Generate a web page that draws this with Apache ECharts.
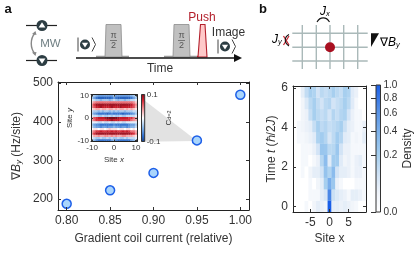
<!DOCTYPE html>
<html><head><meta charset="utf-8">
<style>html,body{margin:0;padding:0;background:#fff}#c{width:415px;height:259px}</style>
<script src="https://cdn.jsdelivr.net/npm/echarts@6/dist/echarts.min.js"></script>
</head><body><div id="c"></div>
<script>
const coilCurrent = [0.80, 0.85, 0.90, 0.95, 1.00];
const gradient = [188, 223, 268, 352, 470];
const currentTicks = [0.80, 0.85, 0.90, 0.95, 1.00];
const gradientTicks = [200, 300, 400, 500];

const siteX = [-9,-8,-7,-6,-5,-4,-3,-2,-1,0,1,2,3,4,5,6,7,8,9];
const timeT = [0,0.58,1.16,1.74,2.32,2.9,3.48,4.06,4.64,5.22,5.8];
const density = [
[0,0,0,.01,0,.02,.04,.03,.02,1,.04,.04,.03,.04,.03,.02,.01,0,0],
[0,0,0,0,.01,.01,.01,.04,.07,.7,.1,.06,.04,.03,.01,.04,.04,.03,.01],
[0,0,0,0,.01,0,.02,.04,.2,.42,.25,.03,.01,0,0,0,.01,.01,.01],
[0,0,.01,0,.02,.04,.04,.08,.28,.17,.33,.08,.04,.04,.03,.01,.03,.03,.01],
[0,0,.01,.01,0,.01,.03,.15,.32,.05,.22,.22,.05,.02,.03,.01,.03,.04,.01],
[0,0,.01,.01,.01,.03,.08,.26,.25,.14,.15,.25,.08,.03,.03,.01,.01,.01,.01],
[0,.01,.01,.02,.03,.05,.18,.22,.16,.07,.13,.22,.16,.05,.04,.01,.02,.01,.04],
[0,.01,.02,.03,.04,.11,.2,.13,.16,.11,.13,.16,.2,.1,.04,.03,.01,.01,.03],
[0,0,.02,.03,.11,.2,.14,.11,.14,.08,.16,.11,.16,.18,.08,.03,.01,.01,0],
[0,0,.02,.06,.14,.2,.12,.08,.14,.16,.08,.11,.14,.2,.14,.05,.01,0,0],
[0,0,.04,.12,.2,.17,.08,.14,.11,.14,.2,.14,.11,.2,.17,.05,.03,0,0]
];
const densityTicks = [0, 0.2, 0.4, 0.6, 0.8, 1.0];

const insetSites = [-10,-9,-8,-7,-6,-5,-4,-3,-2,-1,0,1,2,3,4,5,6,7,8,9,10];
const corr = [
[-2,-3,-4,-5,-5,-5,-5,-5,-5,-5,-3,-5,-5,-5,-5,-5,-5,-5,-4,-3,-2],
[-3,-5,-7,-8,-8,-8,-8,-8,-8,-7,-5,-7,-8,-8,-8,-8,-8,-8,-7,-5,-3],
[-1,-2,-3,-3,-4,-3,-3,-3,-4,-3,-2,-3,-4,-3,-3,-4,-3,-3,-2,-2,-1],
[2,4,5,5,5,5,5,5,5,5,5,5,5,5,5,5,5,5,5,4,2],
[4,7,9,9,9,9,9,9,9,9,9,9,9,9,9,9,9,9,8,6,4],
[4,6,8,8,9,8,8,8,8,9,8,8,8,9,8,8,8,8,7,6,3],
[1,2,3,3,2,3,3,2,3,3,2,3,2,3,3,2,3,2,3,2,1],
[-2,-3,-3,-4,-3,-4,-3,-3,-4,-3,-4,-3,-4,-3,-3,-4,-3,-3,-3,-2,-2],
[-3,-5,-6,-7,-7,-7,-7,-8,-7,-6,-7,-7,-7,-7,-8,-7,-7,-7,-6,-5,-3],
[-1,-2,-2,-3,-3,-2,-3,-3,-2,-3,-2,-3,-3,-2,-3,-3,-2,-2,-2,-2,-1],
[3,6,7,8,8,8,9,10,10,11,11,10,9,8,8,8,8,7,7,5,3],
[3,5,7,7,7,7,7,8,8,9,8,8,8,7,7,7,7,7,5,4,3],
[-1,-1,-1,-2,-2,-1,-2,-2,-1,-2,-2,-1,-2,-1,-2,-2,-1,-1,-1,-1,-1],
[-3,-5,-6,-6,-7,-7,-7,-7,-7,-7,-6,-7,-7,-7,-7,-7,-7,-6,-5,-5,-3],
[-2,-4,-5,-5,-6,-5,-5,-6,-5,-5,-4,-5,-5,-6,-5,-5,-6,-5,-4,-4,-2],
[0,1,1,0,1,1,0,1,2,1,1,1,0,1,1,0,1,1,0,1,0],
[3,5,7,7,8,7,7,8,7,8,7,8,7,7,8,7,8,7,5,5,3],
[4,7,9,9,9,9,9,9,9,9,9,9,9,9,9,9,9,9,8,7,4],
[1,3,3,4,3,3,4,4,3,4,3,4,3,3,4,4,3,3,3,2,1],
[-1,-2,-3,-3,-2,-3,-3,-2,-3,-2,-3,-3,-2,-3,-3,-2,-3,-2,-2,-2,-1],
[-2,-4,-6,-7,-7,-7,-7,-7,-7,-5,-4,-6,-7,-7,-7,-7,-7,-7,-5,-4,-2]
];

const FONT = '"Liberation Sans", Arial, sans-serif';
const INK = '#333333';
const DARK = '#2c3d43';
const blueStops = [[0,'#ffffff'],[.15,'#f0f4fa'],[.3,'#cfe2f5'],[.45,'#a6cfef'],[.6,'#85b8ec'],[.8,'#5590e6'],[1,'#1a5fe8']];
const rdbuStops = [[0,'#1c3f80'],[.12,'#2a6acb'],[.3,'#86b4e6'],[.5,'#ffffff'],[.7,'#f08c90'],[.88,'#d21f2e'],[1,'#7d0f1c']];

function hex(c){return [1,3,5].map(i=>parseInt(c.substr(i,2),16));}
function ramp(stops,t){
  t=Math.max(0,Math.min(1,t));
  for(let i=1;i<stops.length;i++){
    if(t<=stops[i][0]){
      const a=stops[i-1],b=stops[i],f=(t-a[0])/(b[0]-a[0]);
      const p=hex(a[1]),q=hex(b[1]);
      return 'rgb('+p.map((v,k)=>Math.round(v+(q[k]-v)*f)).join(',')+')';
    }
  }
  return stops[stops.length-1][1];
}

const densityCells=[];
timeT.forEach((t,r)=>siteX.forEach((x,c)=>densityCells.push([x,t,density[r][c]])));
const corrCells=[];
insetSites.slice().reverse().forEach((y,r)=>insetSites.forEach((x,c)=>corrCells.push([x,y,corr[r][c]/100])));

function cellSeries(gridIdx,data,w,h,colorOf,xi,yi){
  return {type:'custom',xAxisIndex:xi,yAxisIndex:yi,data,silent:true,z:2,clip:true,
    encode:{x:0,y:1},
    renderItem(p,api){
      const x=api.value(0),y=api.value(1),v=api.value(2);
      const a=api.coord([x-w/2,y+h/2]),b=api.coord([x+w/2,y-h/2]);
      return {type:'rect',shape:{x:a[0],y:a[1],width:b[0]-a[0]+.3,height:b[1]-a[1]+.3},style:{fill:colorOf(v)}};
    }};
}
function barSeries(xi,yi,stops,lo,hi){
  return {type:'custom',xAxisIndex:xi,yAxisIndex:yi,data:[[0,lo,hi]],silent:true,z:8,
    renderItem(p,api){
      const a=api.coord([0,hi]),b=api.coord([1,lo]);
      return {type:'rect',shape:{x:a[0],y:a[1],width:b[0]-a[0],height:b[1]-a[1]},
        style:{stroke:'#333',lineWidth:1,fill:new echarts.graphic.LinearGradient(0,1,0,0,
          stops.map(s=>({offset:s[0],color:s[1]})))}};
    }};
}

function ax(grid,pos,min,max,ticks,o){
  o=o||{};
  const labeled=o.labeled!==false;
  return Object.assign({type:'value',gridIndex:grid,position:pos,min,max,z:o.z||9,
    axisLine:{show:true,onZero:false,lineStyle:{color:'#222',width:o.lw||1}},
    axisTick:{show:!!ticks,inside:true,length:o.tl||3,lineStyle:{color:'#333',width:1},customValues:ticks||[]},
    axisLabel:{show:labeled,margin:o.margin||4,fontFamily:FONT,fontSize:o.fs||12,color:INK,
      customValues:ticks||[],formatter:o.fmt,hideOverlap:false,showMinLabel:true,showMaxLabel:true},
    splitLine:{show:false}},o.extra||{});
}
const named=(name,gap,fs,rich,rot)=>({name,nameLocation:'middle',nameGap:gap,nameRotate:rot,
  nameTextStyle:{fontFamily:FONT,fontSize:fs,color:INK,rich}});

const grids=[
  {left:58,top:82,width:191,height:128},
  {left:91,top:94.5,width:46,height:47,z:5},
  {left:293,top:86,width:73,height:126},
  {left:376,top:85,width:4.5,height:127},
  {left:141.5,top:94.5,width:3.2,height:47}
];
const richY={t:{fontFamily:FONT,fontSize:12,color:INK},i:{fontFamily:FONT,fontSize:12,fontStyle:'italic',color:INK},
  s:{fontFamily:FONT,fontSize:8,fontStyle:'italic',color:INK,verticalAlign:'bottom'}};
const richI={t:{fontFamily:FONT,fontSize:8,color:INK},i:{fontFamily:FONT,fontSize:8,fontStyle:'italic',color:INK},
  s:{fontFamily:FONT,fontSize:5.5,color:INK,verticalAlign:'bottom'}};

const xAxes=[
  ax(0,'bottom',0.79,1.01,currentTicks,{fmt:v=>v.toFixed(2),margin:5,extra:named('Gradient coil current (relative)',23,12)}),
  ax(0,'top',0.79,1.01,currentTicks,{labeled:false}),
  ax(1,'bottom',-10.5,10.5,[-10,0,10],{fs:8,margin:2,tl:2,extra:named('{t|Site }{i|x}',14,8,richI)}),
  ax(1,'top',-10.5,10.5,[-10,0,10],{labeled:false,tl:2}),
  ax(2,'bottom',-9.5,9.5,[-5,0,5],{margin:5,extra:named('Site x',21,12)}),
  ax(2,'top',-9.5,9.5,[-5,0,5],{labeled:false}),
  {type:'value',gridIndex:3,min:0,max:1,show:false},
  {type:'value',gridIndex:4,min:0,max:1,show:false}
];
const yAxes=[
  ax(0,'left',172,503,gradientTicks,{margin:5,extra:named('{t|∇}{i|B}{s|y}{t| (Hz/site)}',35,12,richY,90)}),
  ax(0,'right',172,503,gradientTicks,{labeled:false}),
  ax(1,'left',-10.5,10.5,[-10,0,10],{fs:8,margin:2,tl:2,extra:named('{t|Site }{i|y}',15,8,richI,90)}),
  ax(1,'right',-10.5,10.5,[-10,0,10],{labeled:false,tl:2}),
  ax(2,'left',-0.29,6.09,[0,2,4,6],{margin:5,extra:named('{t|Time }{i|t}{t| (ℏ/2}{i|J}{t|)}',15,12,richY,90)}),
  ax(2,'right',-0.29,6.09,[0,2,4,6],{labeled:false}),
  ax(3,'right',0,1,densityTicks.map(Math.sqrt),{fs:10,margin:3,tl:5,fmt:v=>(v*v).toFixed(1),
    extra:Object.assign({axisLine:{show:false}},named('Density',20,12,undefined,90))}),
  ax(4,'right',-0.1,0.1,[-0.1,0.1],{fs:8,margin:2,fmt:v=>v.toFixed(1),
    extra:Object.assign({axisLine:{show:false}},named('{t|C}{s|d=2}',6,8,richI,90))})
];
yAxes[7].axisTick.show=false;

function T(x,y,text,size,fill,extra){
  return {type:'text',z:6,silent:true,style:Object.assign({x,y,text,fill:fill||INK,
    font:size+'px '+FONT,align:'center',verticalAlign:'middle'},extra||{})};
}
function L(x1,y1,x2,y2,c,w){return {type:'line',z:6,silent:true,shape:{x1,y1,x2,y2},style:{stroke:c,lineWidth:w}};}
function P(points,fill,stroke,w,z){return {type:'polygon',z:z||6,silent:true,shape:{points},style:{fill,stroke,lineWidth:w||0}};}
function atom(cx,cy,r,up){
  const s=up?-1:1,a=r*.62;
  return [{type:'circle',z:6,silent:true,shape:{cx,cy,r},style:{fill:DARK}},
    P([[cx-a,cy-s*a*.55],[cx+a,cy-s*a*.55],[cx,cy+s*a*.95]],'#fff')];
}
function ket(x,y){
  return [L(x,y-7,x,y+7,'#444',1),...atom(x+7,y,5,false),
    {type:'polyline',z:6,silent:true,shape:{points:[[x+14,y-7],[x+17.5,y],[x+14,y+7]]},style:{stroke:'#444',lineWidth:1,fill:'none'}}];
}
function pulse(x0,x1,xb0,xb1){
  return [L(xb0,56.5,xb1,56.5,'#999',1.5),
    P([[x0,57],[x0+1,24.5],[x1-1,24.5],[x1,57]],'#c0c0c0','#8c8c8c',.8),
    T((x0+x1)/2,35.5,'π',9,'#555'),L((x0+x1)/2-3.5,40.5,(x0+x1)/2+3.5,40.5,'#555',.7),T((x0+x1)/2,46,'2',9,'#555')];
}
const graphics=[
  T(8,9,'a',13,'#111',{font:'bold 13px '+FONT}),
  T(263,9,'b',13,'#111',{font:'bold 13px '+FONT}),
  L(26,25.5,57,25.5,'#222',1.2),...atom(42,25.5,5.5,true),
  L(26,60.5,57,60.5,'#222',1.2),...atom(42,60.5,5.5,false),
  {type:'bezierCurve',z:6,silent:true,shape:{x1:35,y1:33,x2:35,y2:54,cpx1:30,cpy1:39,cpx2:30,cpy2:48},style:{stroke:'#888',lineWidth:1.4,fill:'none'}},
  P([[35.5,31],[32,34],[36.5,35]],'#888'),P([[35.5,56],[32,52.5],[36.5,52]],'#888'),
  T(50.5,43.5,'MW',11.5,'#6e7e82'),
  ...ket(78,44.5),
  ...pulse(105,122,96,129),
  ...pulse(173,190,164,197),
  L(197,56.5,207,56.5,'#b3202c',1.5),
  P([[198,57],[200.5,24.5],[205,24.5],[207,57]],'#ffc9c9','#b3202c',1.1),
  T(202,18,'Push',12,'#b3202c'),
  T(228.5,32.5,'Image',12),
  ...ket(218,46.5),
  L(76,58,236,58,'#111',1.4),P([[234,54],[242,58],[234,62]],'#111'),
  T(160,69,'Time',12),
  P([[144,100],[144,141.7],[197,141]],'#e2e2e2',null,0,1),
  ...[302.3,316.3,330,343.7,357.7].map(x=>L(x,25,x,69,'#aab9b9',1.4)),
  ...[33.3,47.3,61].map(y=>L(292.3,y,367.7,y,'#aab9b9',1.4)),
  {type:'circle',z:7,silent:true,shape:{cx:330,cy:47.3,r:5},style:{fill:'#a80f20'}},
  {type:'text',z:7,silent:true,style:{x:320,y:12,text:'{i|J}{s|x}',rich:{i:{fontFamily:FONT,fontSize:12,fontStyle:'italic',color:INK},s:{fontFamily:FONT,fontSize:7.5,fontStyle:'italic',color:INK,verticalAlign:'bottom'}},verticalAlign:'middle'}},
  {type:'bezierCurve',z:7,silent:true,shape:{x1:317,y1:22,x2:329.5,y2:22,cpx1:320,cpy1:16.5,cpx2:326.5,cpy2:16.5},style:{stroke:'#111',lineWidth:1.1,fill:'none'}},
  {type:'text',z:7,silent:true,style:{x:272,y:40,text:'{i|J}{s|y}',rich:{i:{fontFamily:FONT,fontSize:12,fontStyle:'italic',color:INK},s:{fontFamily:FONT,fontSize:7.5,fontStyle:'italic',color:INK,verticalAlign:'bottom'}},verticalAlign:'middle'}},
  {type:'bezierCurve',z:7,silent:true,shape:{x1:289,y1:34.5,x2:289,y2:46,cpx1:284,cpy1:37,cpx2:284,cpy2:43},style:{stroke:'#111',lineWidth:1.1,fill:'none'}},
  L(283.5,36,289,45,'#c4202c',1.2),L(289,36,283.5,45,'#c4202c',1.2),
  P([[371,33.3],[379,33.3],[371,47]],'#111'),
  {type:'text',z:7,silent:true,style:{x:380,y:43,text:'{t|∇}{i|B}{s|y}',rich:{t:{fontFamily:FONT,fontSize:12,color:INK},i:{fontFamily:FONT,fontSize:12,fontStyle:'italic',color:INK},s:{fontFamily:FONT,fontSize:7.5,fontStyle:'italic',color:INK,verticalAlign:'bottom'}},verticalAlign:'middle'}}
];

const chart=echarts.init(document.getElementById('c'),null,{renderer:'canvas'});
chart.setOption({
  animation:false,backgroundColor:'#fff',
  grid:grids,xAxis:xAxes,yAxis:yAxes,graphic:{elements:graphics},
  series:[
    {type:'scatter',xAxisIndex:0,yAxisIndex:0,data:coilCurrent.map((x,i)=>[x,gradient[i]]),
      symbolSize:9,itemStyle:{color:'#a9d5fc',borderColor:'#1d5fe8',borderWidth:1.5,opacity:1},silent:true,z:3},
    Object.assign(cellSeries(1,corrCells,1,1,v=>ramp(rdbuStops,(v+.1)/.2),2,2),{z:8}),
    cellSeries(2,densityCells,1,0.58,v=>ramp(blueStops,Math.sqrt(v)),4,4),
    barSeries(6,6,blueStops,0,1),
    barSeries(7,7,rdbuStops,-0.1,0.1)
  ]
});
</script></body></html>
